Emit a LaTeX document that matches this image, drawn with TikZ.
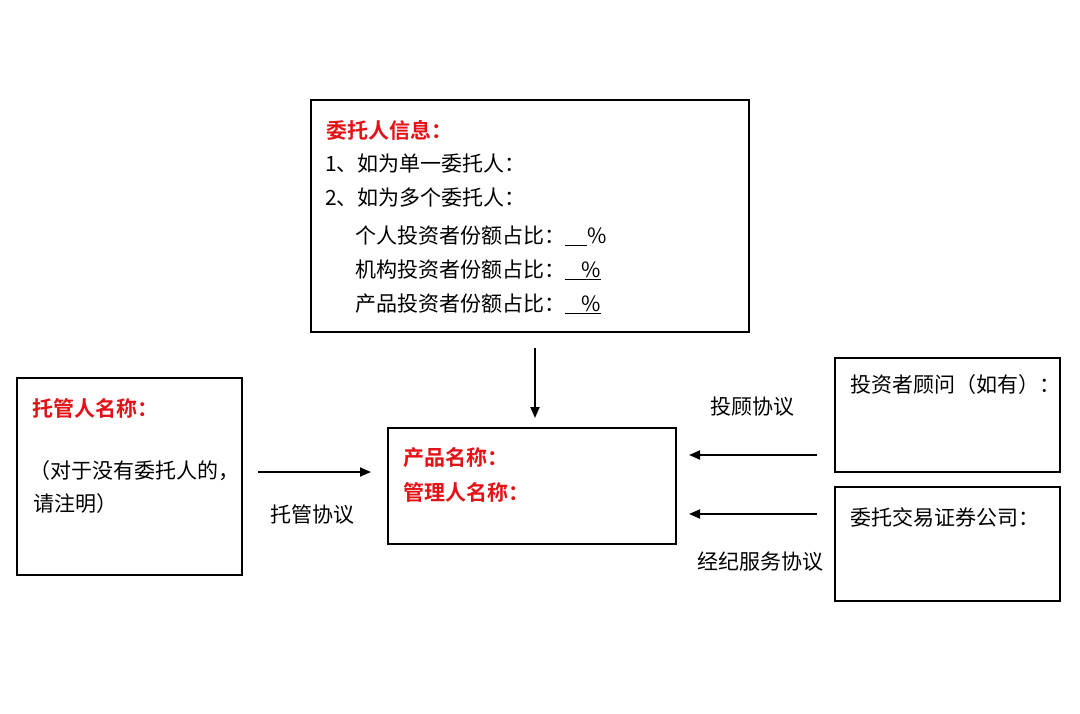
\documentclass[tikz,border=0pt]{standalone}
\usepackage{fontspec}
\setmainfont{Noto Sans CJK SC}
\newfontfamily\cjkbold{Noto Sans CJK SC Bold}
\usetikzlibrary{arrows.meta}
\definecolor{titlered}{RGB}{228,18,22}
\tikzset{
  box/.style={draw=black, line width=1.8pt},
  txt/.style={anchor=west, inner sep=0pt, font=\fontsize{21}{24}\selectfont},
  ttl/.style={anchor=west, inner sep=0pt, text=titlered, font=\fontsize{21}{24}\selectfont\cjkbold},
  conn/.style={line width=1.8pt, -{Triangle[length=11pt,width=9pt]}},
  lbl/.style={inner sep=0pt, font=\fontsize{21}{24}\selectfont}
}
\begin{document}
\begin{tikzpicture}[x=1pt,y=-1pt]
\useasboundingbox[fill=white] (0,0) rectangle (1080,713);
% boxes
\draw[box] (311,100) rectangle (749,332);
\node[inner sep=0pt] (top) at (530,216) [minimum width=438pt, minimum height=232pt] {};
\draw[box] (17,378) rectangle (242,575);
\node[inner sep=0pt] (left) at (129.5,476.5) [minimum width=225pt, minimum height=197pt] {};
\draw[box] (388,428) rectangle (676,544);
\node[inner sep=0pt] (center) at (532,486) [minimum width=288pt, minimum height=116pt] {};
\draw[box] (835,358) rectangle (1060,472);
\node[inner sep=0pt] (rtop) at (947.5,415) [minimum width=225pt, minimum height=114pt] {};
\draw[box] (835,487) rectangle (1060,601);
\node[inner sep=0pt] (rbot) at (947.5,544) [minimum width=225pt, minimum height=114pt] {};
% top box text
\node[ttl] (t0) at (326,130) {委托人信息：};
\node[txt] (t1) at (325,164) {1、如为单一委托人：};
\node[txt] (t2) at (325,198) {2、如为多个委托人：};
\node[txt] (t3) at (355,236) {个人投资者份额占比：\underline{\hspace{22pt}}\%};
\node[txt] (t4) at (355,270) {机构投资者份额占比：\underline{\hspace{16pt}\%}};
\node[txt] (t5) at (355,304) {产品投资者份额占比：\underline{\hspace{16pt}\%}};
% left box text
\node[ttl] (l0) at (32,408) {托管人名称：};
\node[txt] (l1) at (29,471) {（对于没有委托人的，};
\node[txt] (l2) at (33,504) {请注明）};
% center box text
\node[ttl] (c0) at (403,458) {产品名称：};
\node[ttl] (c1) at (403,492) {管理人名称：};
% right boxes text
\node[txt] (r0) at (850,385) {投资者顾问（如有）：};
\node[txt] (r1) at (850,517) {委托交易证券公司：};
% connector end points
\coordinate (vA) at (535,348);
\coordinate (vB) at (535,418);
\coordinate (hA) at (258,472);
\coordinate (hB) at (371,472);
\coordinate (aA) at (817,455);
\coordinate (aB) at (689,455);
\coordinate (bA) at (817,514);
\coordinate (bB) at (689,514);
\draw[conn] (vA) -- (vB);
\draw[conn] (hA) -- (hB);
\draw[conn] (aA) -- (aB);
\draw[conn] (bA) -- (bB);
% labels
\node[lbl] (k1) at (312,515) {托管协议};
\node[lbl] (k2) at (752,407) {投顾协议};
\node[lbl] (k3) at (760,562) {经纪服务协议};
\end{tikzpicture}
\end{document}
